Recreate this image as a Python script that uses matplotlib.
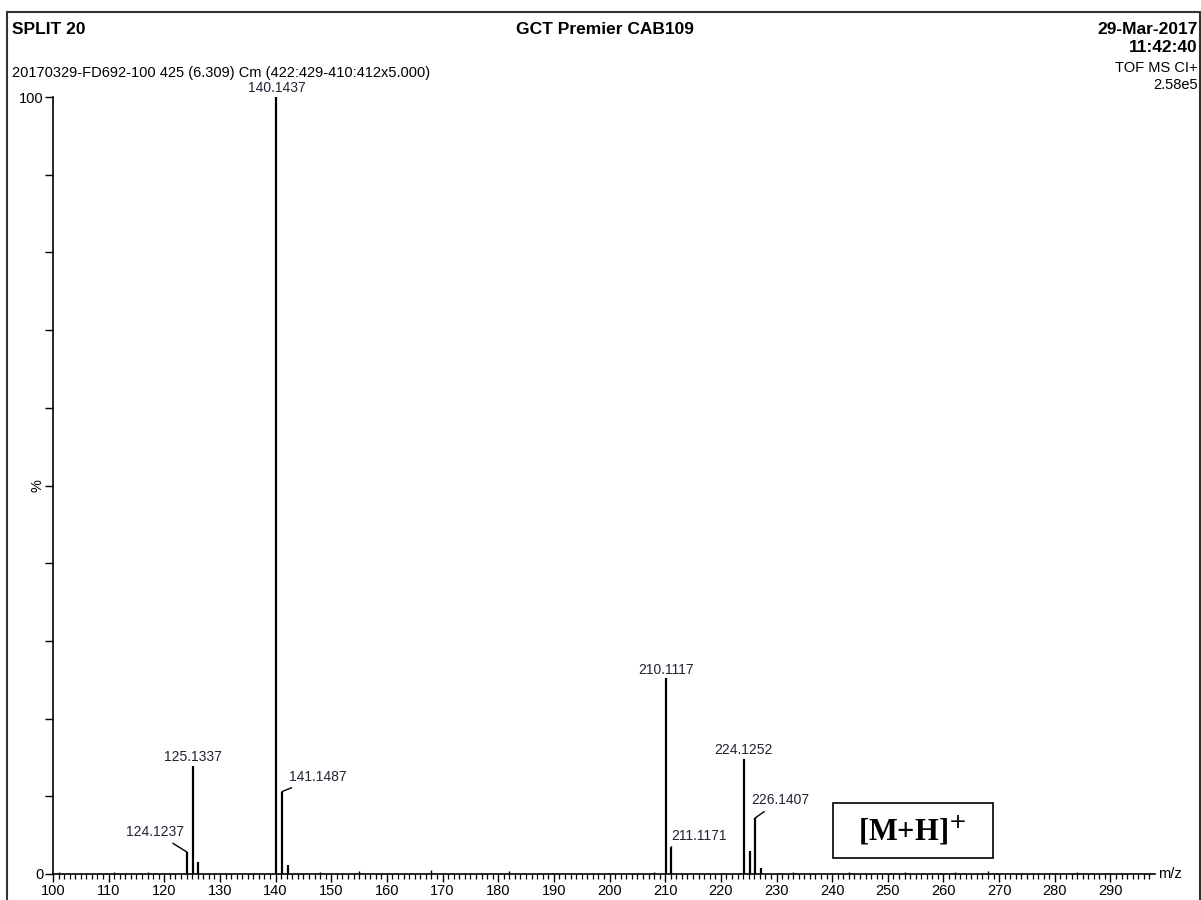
import matplotlib.pyplot as plt
from matplotlib.patches import Rectangle

# peak list (m/z, relative intensity %)
peak_mz = [124.1237, 125.1337, 126.1, 140.1437, 141.1487, 142.3,
           210.1117, 211.1171, 224.1252, 225.2, 226.1407, 227.3]
peak_int = [2.8, 13.9, 1.6, 100.0, 10.6, 1.2,
            25.2, 3.5, 14.8, 2.9, 7.2, 0.8]

# small baseline blips
noise_mz = [101, 111, 117, 148, 155, 168, 182, 208, 233, 243, 253, 262, 268, 284]
noise_int = [0.3, 0.3, 0.3, 0.3, 0.4, 0.5, 0.4, 0.3, 0.3, 0.3, 0.3, 0.3, 0.4, 0.3]

# labelled peaks: text, (label x, label y) in data units, leader line or not
labels = ['124.1237', '125.1337', '140.1437', '141.1487',
          '210.1117', '211.1171', '224.1252', '226.1407']
label_mz = [124.1237, 125.1337, 140.1437, 141.1487,
            210.1117, 211.1171, 224.1252, 226.1407]
label_int = [2.8, 13.9, 100.0, 10.6, 25.2, 3.5, 14.8, 7.2]
label_pos = [(118.3, 4.5), None, None, (147.6, 11.6),
             None, (216.0, 4.0), None, (230.7, 8.6)]

plt.rcParams['font.family'] = ['Liberation Sans', 'DejaVu Sans']

fig = plt.figure(figsize=(12.01, 9.0), dpi=100)
ax = fig.add_axes([0.0441, 0.0289, 0.9176, 0.8633])

ax.vlines(peak_mz, 0, peak_int, color='black', linewidth=1.6)
ax.vlines(noise_mz, 0, noise_int, color='black', linewidth=1.0)

for txt, mz, h, pos in zip(labels, label_mz, label_int, label_pos):
    if pos is None:
        ax.text(mz, h + 0.2, txt, ha='center', va='bottom', fontsize=10, color='#222233')
    else:
        ax.annotate(txt, xy=(mz, h), xytext=pos, ha='center', va='bottom',
                    fontsize=10, color='#222233',
                    arrowprops=dict(arrowstyle='-', color='black', lw=1.0,
                                    shrinkA=2, shrinkB=0))

ax.set_xlim(100, 298)
ax.set_ylim(0, 100)
ax.spines['top'].set_visible(False)
ax.spines['right'].set_visible(False)
ax.spines['left'].set_linewidth(1.2)
ax.spines['bottom'].set_linewidth(1.2)

ax.set_xticks(range(100, 300, 10))
ax.set_xticks(range(100, 298, 1), minor=True)
ax.tick_params(axis='x', which='major', length=6, width=1.0, labelsize=10.5, pad=1)
ax.tick_params(axis='x', which='minor', length=3.5, width=0.9)
ax.set_yticks(range(0, 101, 10))
ax.set_yticklabels(['0', '', '', '', '', '', '', '', '', '', '100'])
ax.tick_params(axis='y', length=6, width=1.0, labelsize=10.5, pad=1)
ax.text(-0.008, 0.5, '%', transform=ax.transAxes, rotation=90,
        ha='right', va='center', fontsize=10.5)
ax.text(1.003, 0.0, 'm/z', transform=ax.transAxes, ha='left', va='center', fontsize=10.5)

# [M+H]+ box
ax.add_patch(Rectangle((0.708, 0.0206), 0.145, 0.0708, transform=ax.transAxes,
                       fill=False, edgecolor='black', linewidth=1.2))
ax.text(0.780, 0.056, r'[M+H]$^{+}$', transform=ax.transAxes, ha='center', va='center',
        fontsize=22, fontweight='bold', family=['Liberation Serif', 'DejaVu Serif'])

# header texts
fig.text(0.010, 0.967, 'SPLIT 20', ha='left', va='center', fontsize=12.5, fontweight='bold')
fig.text(0.504, 0.967, 'GCT Premier CAB109', ha='center', va='center',
         fontsize=12.5, fontweight='bold')
fig.text(0.997, 0.967, '29-Mar-2017', ha='right', va='center', fontsize=12.5, fontweight='bold')
fig.text(0.997, 0.947, '11:42:40', ha='right', va='center', fontsize=12.5, fontweight='bold')
fig.text(0.010, 0.919, '20170329-FD692-100 425 (6.309) Cm (422:429-410:412x5.000)',
         ha='left', va='center', fontsize=10.5)
fig.text(0.997, 0.924, 'TOF MS CI+', ha='right', va='center', fontsize=10.5)
fig.text(0.997, 0.906, '2.58e5', ha='right', va='center', fontsize=10.5)

# outer frame
fig.patches.append(Rectangle((0.006, -0.01), 0.993, 0.997, transform=fig.transFigure,
                             fill=False, edgecolor='#333333', linewidth=1.5))

fig.savefig('out.png', dpi=100)
